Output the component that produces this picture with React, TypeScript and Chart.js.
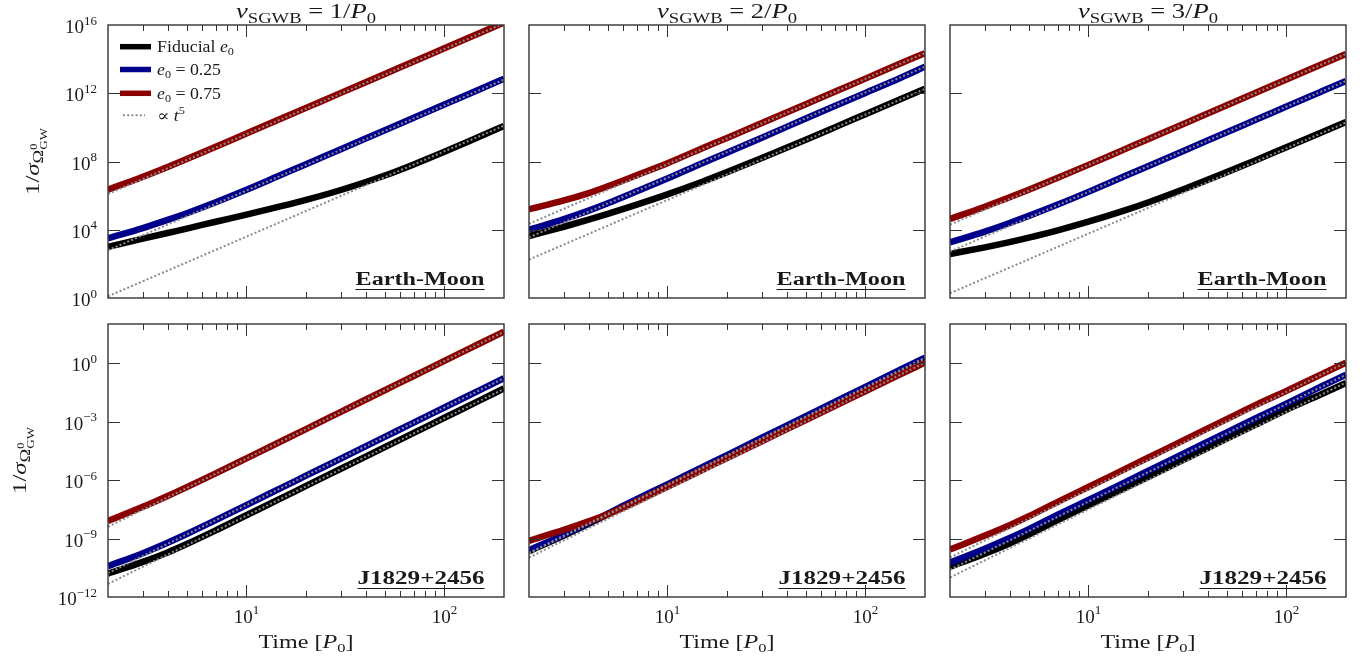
import React, { useEffect, useRef } from 'react';
import { Chart, registerables } from 'chart.js';

Chart.register(...registerables);

// ---------------- data ----------------
const T = [2, 3, 4, 5, 7, 10, 15, 20, 30, 50, 70, 100, 150, 200];
const T_FIT = [2, 200];

// Earth-Moon, nu = 1/P0
const EM1_FID = [1.0e3, 2.99e3, 6.46e3, 1.17e4, 2.95e4, 7.76e4, 2.4e5, 5.62e5, 2.14e6, 1.51e7, 6.76e7, 3.72e8, 2.82e9, 1.2e10];
const EM1_E25 = [3.16e3, 1.26e4, 3.76e4, 9.3e4, 4.07e5, 2.19e6, 1.66e7, 7.0e7, 5.3e8, 6.8e9, 3.67e10, 2.19e11, 1.66e12, 7.0e12];
const EM1_E75 = [2.24e6, 1.28e7, 4.81e7, 1.41e8, 7.3e8, 4.35e9, 3.3e10, 1.39e11, 1.05e12, 1.36e13, 7.3e13, 4.35e14, 3.3e15, 1.39e16];
const EM1_FITS = [[1.26, 1.26e10], [6.3e2, 6.3e12], [1.26e6, 1.26e16]];

// Earth-Moon, nu = 2/P0
const EM2_FID = [4.27e3, 1.5e4, 3.88e4, 8.5e4, 2.94e5, 1.19e6, 6.5e6, 2.38e7, 1.6e8, 1.9e9, 1.0e10, 5.9e10, 4.4e11, 1.82e12];
const EM2_E25 = [1.0e4, 4.2e4, 1.32e5, 3.55e5, 1.78e6, 1.0e7, 7.9e7, 3.3e8, 2.5e9, 3.3e10, 1.78e11, 1.05e12, 7.9e12, 3.55e13];
const EM2_E75 = [1.58e5, 5.2e5, 1.41e6, 3.55e6, 1.58e7, 7.9e7, 6.0e8, 2.4e9, 1.82e10, 2.3e11, 1.23e12, 7.2e12, 5.5e13, 2.24e14];
const EM2_FITS = [[1.78e2, 1.78e12], [3.55e3, 3.55e13], [2.24e4, 2.24e14]];

// Earth-Moon, nu = 3/P0
const EM3_FID = [3.8e2, 9.3e2, 1.87e3, 3.43e3, 9.25e3, 2.95e4, 1.27e5, 3.96e5, 2.26e6, 2.38e7, 1.19e8, 6.9e8, 5.0e9, 2.04e10];
const EM3_E25 = [1.82e3, 7.8e3, 2.48e4, 6.5e4, 2.99e5, 1.66e6, 1.26e7, 5.3e7, 4.0e8, 5.2e9, 2.78e10, 1.66e11, 1.26e12, 5.3e12];
const EM3_E75 = [4.27e4, 2.25e5, 7.98e5, 2.23e6, 1.1e7, 6.34e7, 4.81e8, 2.03e9, 1.54e10, 1.98e11, 1.06e12, 6.34e12, 4.81e13, 2.03e14];
const EM3_FITS = [[1.9, 1.9e10], [5.25e2, 5.25e12], [2.0e4, 2.0e14]];

// J1829+2456, nu = 1/P0
const PSR1_FID = [1.58e-11, 6.3e-11, 1.94e-10, 5.2e-10, 2.6e-9, 1.55e-8, 1.17e-7, 4.95e-7, 3.76e-6, 4.84e-5, 2.6e-4, 1.55e-3, 1.17e-2, 4.95e-2];
const PSR1_E25 = [3.8e-11, 1.77e-10, 6.1e-10, 1.7e-9, 8.7e-9, 5.2e-8, 3.94e-7, 1.66e-6, 1.26e-5, 1.62e-4, 8.7e-4, 5.2e-3, 3.94e-2, 0.166];
const PSR1_E75 = [7.9e-9, 4.19e-8, 1.51e-7, 4.3e-7, 2.2e-6, 1.29e-5, 9.75e-5, 4.1e-4, 3.12e-3, 4.02e-2, 0.216, 1.29, 9.75, 41];
const PSR1_FITS = [[4.7e-12, 4.7e-2], [1.66e-11, 0.166], [4.0e-9, 40]];

// J1829+2456, nu = 2/P0
const PSR2_FID = [2.2e-10, 1.41e-9, 5.6e-9, 1.74e-8, 9.5e-8, 5.5e-7, 4.2e-6, 1.74e-5, 1.35e-4, 1.7e-3, 9.3e-3, 5.5e-2, 0.41, 1.7];
const PSR2_E25 = [2.5e-10, 1.58e-9, 6.3e-9, 1.9e-8, 1.05e-7, 6.0e-7, 4.6e-6, 1.9e-5, 1.48e-4, 1.86e-3, 1.02e-2, 6.0e-2, 0.45, 1.86];
const PSR2_E75 = [7.6e-10, 2.8e-9, 7.6e-9, 1.74e-8, 7.9e-8, 4.5e-7, 3.26e-6, 1.33e-5, 9.7e-5, 1.19e-3, 6.2e-3, 3.55e-2, 0.259, 1.06];
const PSR2_FITS = [[1.7e-10, 1.7], [1.86e-10, 1.86], [1.05e-10, 1.05]];

// J1829+2456, nu = 3/P0
const PSR3_FID = [3.5e-11, 1.66e-10, 5.6e-10, 1.58e-9, 8.7e-9, 5.0e-8, 3.55e-7, 1.41e-6, 1.05e-5, 1.32e-4, 6.9e-4, 4.0e-3, 2.5e-2, 9.5e-2];
const PSR3_E25 = [5.9e-11, 3.0e-10, 1.05e-9, 3.0e-9, 1.66e-8, 9.5e-8, 6.9e-7, 2.9e-6, 2.2e-5, 2.75e-4, 1.48e-3, 8.3e-3, 6.3e-2, 0.25];
const PSR3_E75 = [2.7e-10, 1.41e-9, 4.8e-9, 1.38e-8, 7.6e-8, 4.4e-7, 3.3e-6, 1.38e-5, 1.05e-4, 1.32e-3, 7.1e-3, 3.7e-2, 0.263, 1.05];
const PSR3_FITS = [[1.0e-11, 0.1], [2.5e-11, 0.25], [1.05e-10, 1.05]];

// axes
const X_RANGE = [2, 200];
const X_MAJOR = [10, 100];
const X_MAJOR_EXP = ['1', '2'];
const X_MINOR = [3, 4, 5, 6, 7, 8, 9, 20, 30, 40, 50, 60, 70, 80, 90];
const TOP_Y_RANGE = [1, 1e16];
const TOP_Y_TICKS = [1, 1e4, 1e8, 1e12, 1e16];
const TOP_Y_EXP = ['0', '4', '8', '12', '16'];
const BOT_Y_RANGE = [1e-12, 1e2];
const BOT_Y_TICKS = [1e-12, 1e-9, 1e-6, 1e-3, 1];
const BOT_Y_EXP = ['\u221212', '\u22129', '\u22126', '\u22123', '0'];

const NU = ['1', '2', '3'];
const SYSTEMS = ['Earth-Moon', 'J1829+2456'];
const LEGEND_E0 = ['Fiducial', '0.25', '0.75'];
const SERIES_COLORS = ['#000000', '#00008b', '#8b0000'];
const FIT_COLOR = '#8a8a8a';
const AXIS_COLOR = '#333333';
const TEXT_COLOR = '#1a1a1a';

// ---------------- layout ----------------
const W = 1364;
const H = 668;
const COL_X = [108, 529, 950];
const ROW_Y = [25, 324];
const PW = 396;
const PH = 273;
const LINE_W = 6.5;
const SERIF = '"Liberation Serif", "DejaVu Serif", serif';

const PANELS = [
  { row: 0, col: 0, series: [EM1_FID, EM1_E25, EM1_E75], fits: EM1_FITS },
  { row: 0, col: 1, series: [EM2_FID, EM2_E25, EM2_E75], fits: EM2_FITS },
  { row: 0, col: 2, series: [EM3_FID, EM3_E25, EM3_E75], fits: EM3_FITS },
  { row: 1, col: 0, series: [PSR1_FID, PSR1_E25, PSR1_E75], fits: PSR1_FITS },
  { row: 1, col: 1, series: [PSR2_FID, PSR2_E25, PSR2_E75], fits: PSR2_FITS },
  { row: 1, col: 2, series: [PSR3_FID, PSR3_E25, PSR3_E75], fits: PSR3_FITS },
];

// ---------------- rich text helpers ----------------
type Seg = { t: string; size: number; style?: string; dy?: number; noAdv?: boolean };
const fontOf = (s: Seg) => `${s.style ? s.style + ' ' : ''}${s.size}px ${SERIF}`;

function segsWidth(ctx: CanvasRenderingContext2D, segs: Seg[]) {
  let w = 0;
  for (const s of segs) {
    ctx.font = fontOf(s);
    if (!s.noAdv) w += ctx.measureText(s.t).width;
  }
  return w;
}

function drawSegs(
  ctx: CanvasRenderingContext2D,
  segs: Seg[],
  x: number,
  y: number,
  align: 'left' | 'center' | 'right',
  targetW?: number,
  angle?: number
) {
  const w = segsWidth(ctx, segs);
  const sx = targetW ? targetW / w : 1;
  ctx.save();
  ctx.translate(x, y);
  if (angle) ctx.rotate(angle);
  ctx.scale(sx, 1);
  let cx = align === 'center' ? -w / 2 : align === 'right' ? -w : 0;
  ctx.textAlign = 'left';
  ctx.textBaseline = 'alphabetic';
  for (const s of segs) {
    ctx.font = fontOf(s);
    ctx.fillText(s.t, cx, s.dy ?? 0);
    if (!s.noAdv) cx += ctx.measureText(s.t).width;
  }
  ctx.restore();
  return w * sx;
}

// ---------------- decoration plugin ----------------
function makeDecor(row: number, col: number) {
  return {
    id: 'decor',
    afterDraw(chart: any) {
      const ctx: CanvasRenderingContext2D = chart.ctx;
      const a = chart.chartArea;
      const xs = chart.scales.x;
      const ys = chart.scales.y;
      const yTicks = row === 0 ? TOP_Y_TICKS : BOT_Y_TICKS;
      const yExp = row === 0 ? TOP_Y_EXP : BOT_Y_EXP;
      ctx.save();

      ctx.strokeStyle = AXIS_COLOR;
      ctx.lineWidth = 1;
      const seg = (x0: number, y0: number, x1: number, y1: number) => {
        ctx.beginPath();
        ctx.moveTo(x0, y0);
        ctx.lineTo(x1, y1);
        ctx.stroke();
      };
      const xTick = (v: number, len: number) => {
        const px = Math.round(xs.getPixelForValue(v)) + 0.5;
        seg(px, a.bottom, px, a.bottom - len);
        seg(px, a.top, px, a.top + len);
      };
      X_MAJOR.forEach((v) => xTick(v, 12));
      X_MINOR.forEach((v) => xTick(v, 6));
      yTicks.forEach((v) => {
        const py = Math.round(ys.getPixelForValue(v)) + 0.5;
        if (py > a.top + 2 && py < a.bottom - 2) {
          seg(a.left, py, a.left + 12, py);
          seg(a.right, py, a.right - 12, py);
        }
      });

      ctx.lineWidth = 1.4;
      ctx.strokeRect(a.left, a.top, a.right - a.left, a.bottom - a.top);

      ctx.fillStyle = TEXT_COLOR;
      const cxPanel = (a.left + a.right) / 2;

      if (row === 1) {
        X_MAJOR.forEach((v, i) => {
          const px = xs.getPixelForValue(v);
          drawSegs(ctx, [{ t: '10', size: 19 }, { t: X_MAJOR_EXP[i], size: 13, dy: -9 }], px, a.bottom + 26, 'center');
        });
        drawSegs(
          ctx,
          [{ t: 'Time [', size: 19 }, { t: 'P', size: 19, style: 'italic' }, { t: '0', size: 13, dy: 4 }, { t: ']', size: 19 }],
          cxPanel,
          a.bottom + 51,
          'center',
          95
        );
      }

      if (col === 0) {
        yTicks.forEach((v, i) => {
          const py = ys.getPixelForValue(v);
          drawSegs(ctx, [{ t: '10', size: 19 }, { t: yExp[i], size: 13, dy: -8.5 }], a.left - 11, py + 8, 'right');
        });
        const xb = row === 0 ? 38.5 : 26;
        drawSegs(
          ctx,
          [
            { t: '1/', size: 19 },
            { t: '\u03c3', size: 19, style: 'italic' },
            { t: '\u03a9', size: 14, dy: 4 },
            { t: '0', size: 9.5, dy: -2, noAdv: true },
            { t: 'GW', size: 10, dy: 8 },
          ],
          xb,
          (a.top + a.bottom) / 2,
          'center',
          67,
          -Math.PI / 2
        );
      }

      if (row === 0) {
        drawSegs(
          ctx,
          [
            { t: '\u03bd', size: 20, style: 'italic' },
            { t: 'SGWB', size: 14, dy: 4.4 },
            { t: ' = ' + NU[col] + '/', size: 20 },
            { t: 'P', size: 20, style: 'italic' },
            { t: '0', size: 14, dy: 4.4 },
          ],
          cxPanel,
          a.top - 6.7,
          'center',
          140
        );
      }

      const name = SYSTEMS[row];
      const nameW = row === 0 ? 129 : 127;
      const rightX = a.right - 19.5;
      drawSegs(ctx, [{ t: name, size: 18, style: 'bold' }], rightX, a.bottom - 13.5, 'right', nameW);
      ctx.strokeStyle = TEXT_COLOR;
      ctx.lineWidth = 1.2;
      seg(rightX - nameW, a.bottom - 8.5, rightX, a.bottom - 8.5);

      if (row === 0 && col === 0) {
        const rows = [21.7, 44.5, 68.3, 90.3];
        const x0 = a.left + 12;
        const x1 = a.left + 43;
        for (let i = 0; i < 3; i++) {
          const cy = a.top + rows[i];
          ctx.strokeStyle = SERIES_COLORS[i];
          ctx.lineWidth = 5.5;
          ctx.lineCap = 'butt';
          seg(x0, cy, x1, cy);
        }
        ctx.strokeStyle = FIT_COLOR;
        ctx.lineWidth = 2;
        ctx.setLineDash([2, 2.2]);
        seg(a.left + 15, a.top + rows[3], a.left + 37, a.top + rows[3]);
        ctx.setLineDash([]);
        ctx.fillStyle = TEXT_COLOR;
        const tx = a.left + 49;
        drawSegs(
          ctx,
          [{ t: LEGEND_E0[0] + ' ', size: 16 }, { t: 'e', size: 16, style: 'italic' }, { t: '0', size: 11, dy: 3 }],
          tx,
          a.top + rows[0] + 5.5,
          'left',
          77
        );
        for (let i = 1; i < 3; i++) {
          drawSegs(
            ctx,
            [{ t: 'e', size: 16, style: 'italic' }, { t: '0', size: 11, dy: 3 }, { t: ' = ' + LEGEND_E0[i], size: 16 }],
            tx,
            a.top + rows[i] + 5.5,
            'left',
            64
          );
        }
        drawSegs(
          ctx,
          [{ t: '\u221d ', size: 16 }, { t: 't', size: 16, style: 'italic' }, { t: '5', size: 11, dy: -7 }],
          tx,
          a.top + rows[3] + 5.5,
          'left',
          28
        );
      }

      ctx.restore();
    },
  };
}

function buildConfig(p: (typeof PANELS)[number]): any {
  const left = COL_X[p.col];
  const top = ROW_Y[p.row];
  const yr = p.row === 0 ? TOP_Y_RANGE : BOT_Y_RANGE;
  const datasets: any[] = [];
  p.series.forEach((s, k) => {
    datasets.push({
      data: T.map((t, j) => ({ x: t, y: s[j] })),
      borderColor: SERIES_COLORS[k],
      borderWidth: LINE_W,
      pointRadius: 0,
      order: 3 - k,
      clip: 0,
      fill: false,
      cubicInterpolationMode: 'monotone',
      borderCapStyle: 'butt',
      borderJoinStyle: 'round',
    });
  });
  p.fits.forEach((f) => {
    datasets.push({
      data: T_FIT.map((t, j) => ({ x: t, y: f[j] })),
      borderColor: FIT_COLOR,
      borderWidth: 2,
      borderDash: [2, 2.2],
      borderCapStyle: 'butt',
      pointRadius: 0,
      order: 0,
      clip: 0,
      fill: false,
      tension: 0,
    });
  });
  return {
    type: 'line',
    data: { datasets },
    options: {
      responsive: false,
      animation: false,
      events: [],
      layout: {
        autoPadding: false,
        padding: { left, top, right: W - left - PW, bottom: H - top - PH },
      },
      scales: {
        x: { type: 'logarithmic', min: X_RANGE[0], max: X_RANGE[1], display: false },
        y: { type: 'logarithmic', min: yr[0], max: yr[1], display: false },
      },
      plugins: { legend: { display: false }, tooltip: { enabled: false } },
    },
    plugins: [makeDecor(p.row, p.col)],
  };
}

export default function App() {
  const refs = useRef<(HTMLCanvasElement | null)[]>([]);
  useEffect(() => {
    const charts = PANELS.map((p, i) => new Chart(refs.current[i] as HTMLCanvasElement, buildConfig(p)));
    return () => charts.forEach((c) => c.destroy());
  }, []);
  return (
    <div style={{ position: 'absolute', left: 0, top: 0, width: W, height: H, background: '#ffffff', overflow: 'hidden' }}>
      {PANELS.map((p, i) => (
        <canvas
          key={i}
          ref={(el) => {
            refs.current[i] = el;
          }}
          width={W}
          height={H}
          style={{ position: 'absolute', left: 0, top: 0 }}
        />
      ))}
    </div>
  );
}
